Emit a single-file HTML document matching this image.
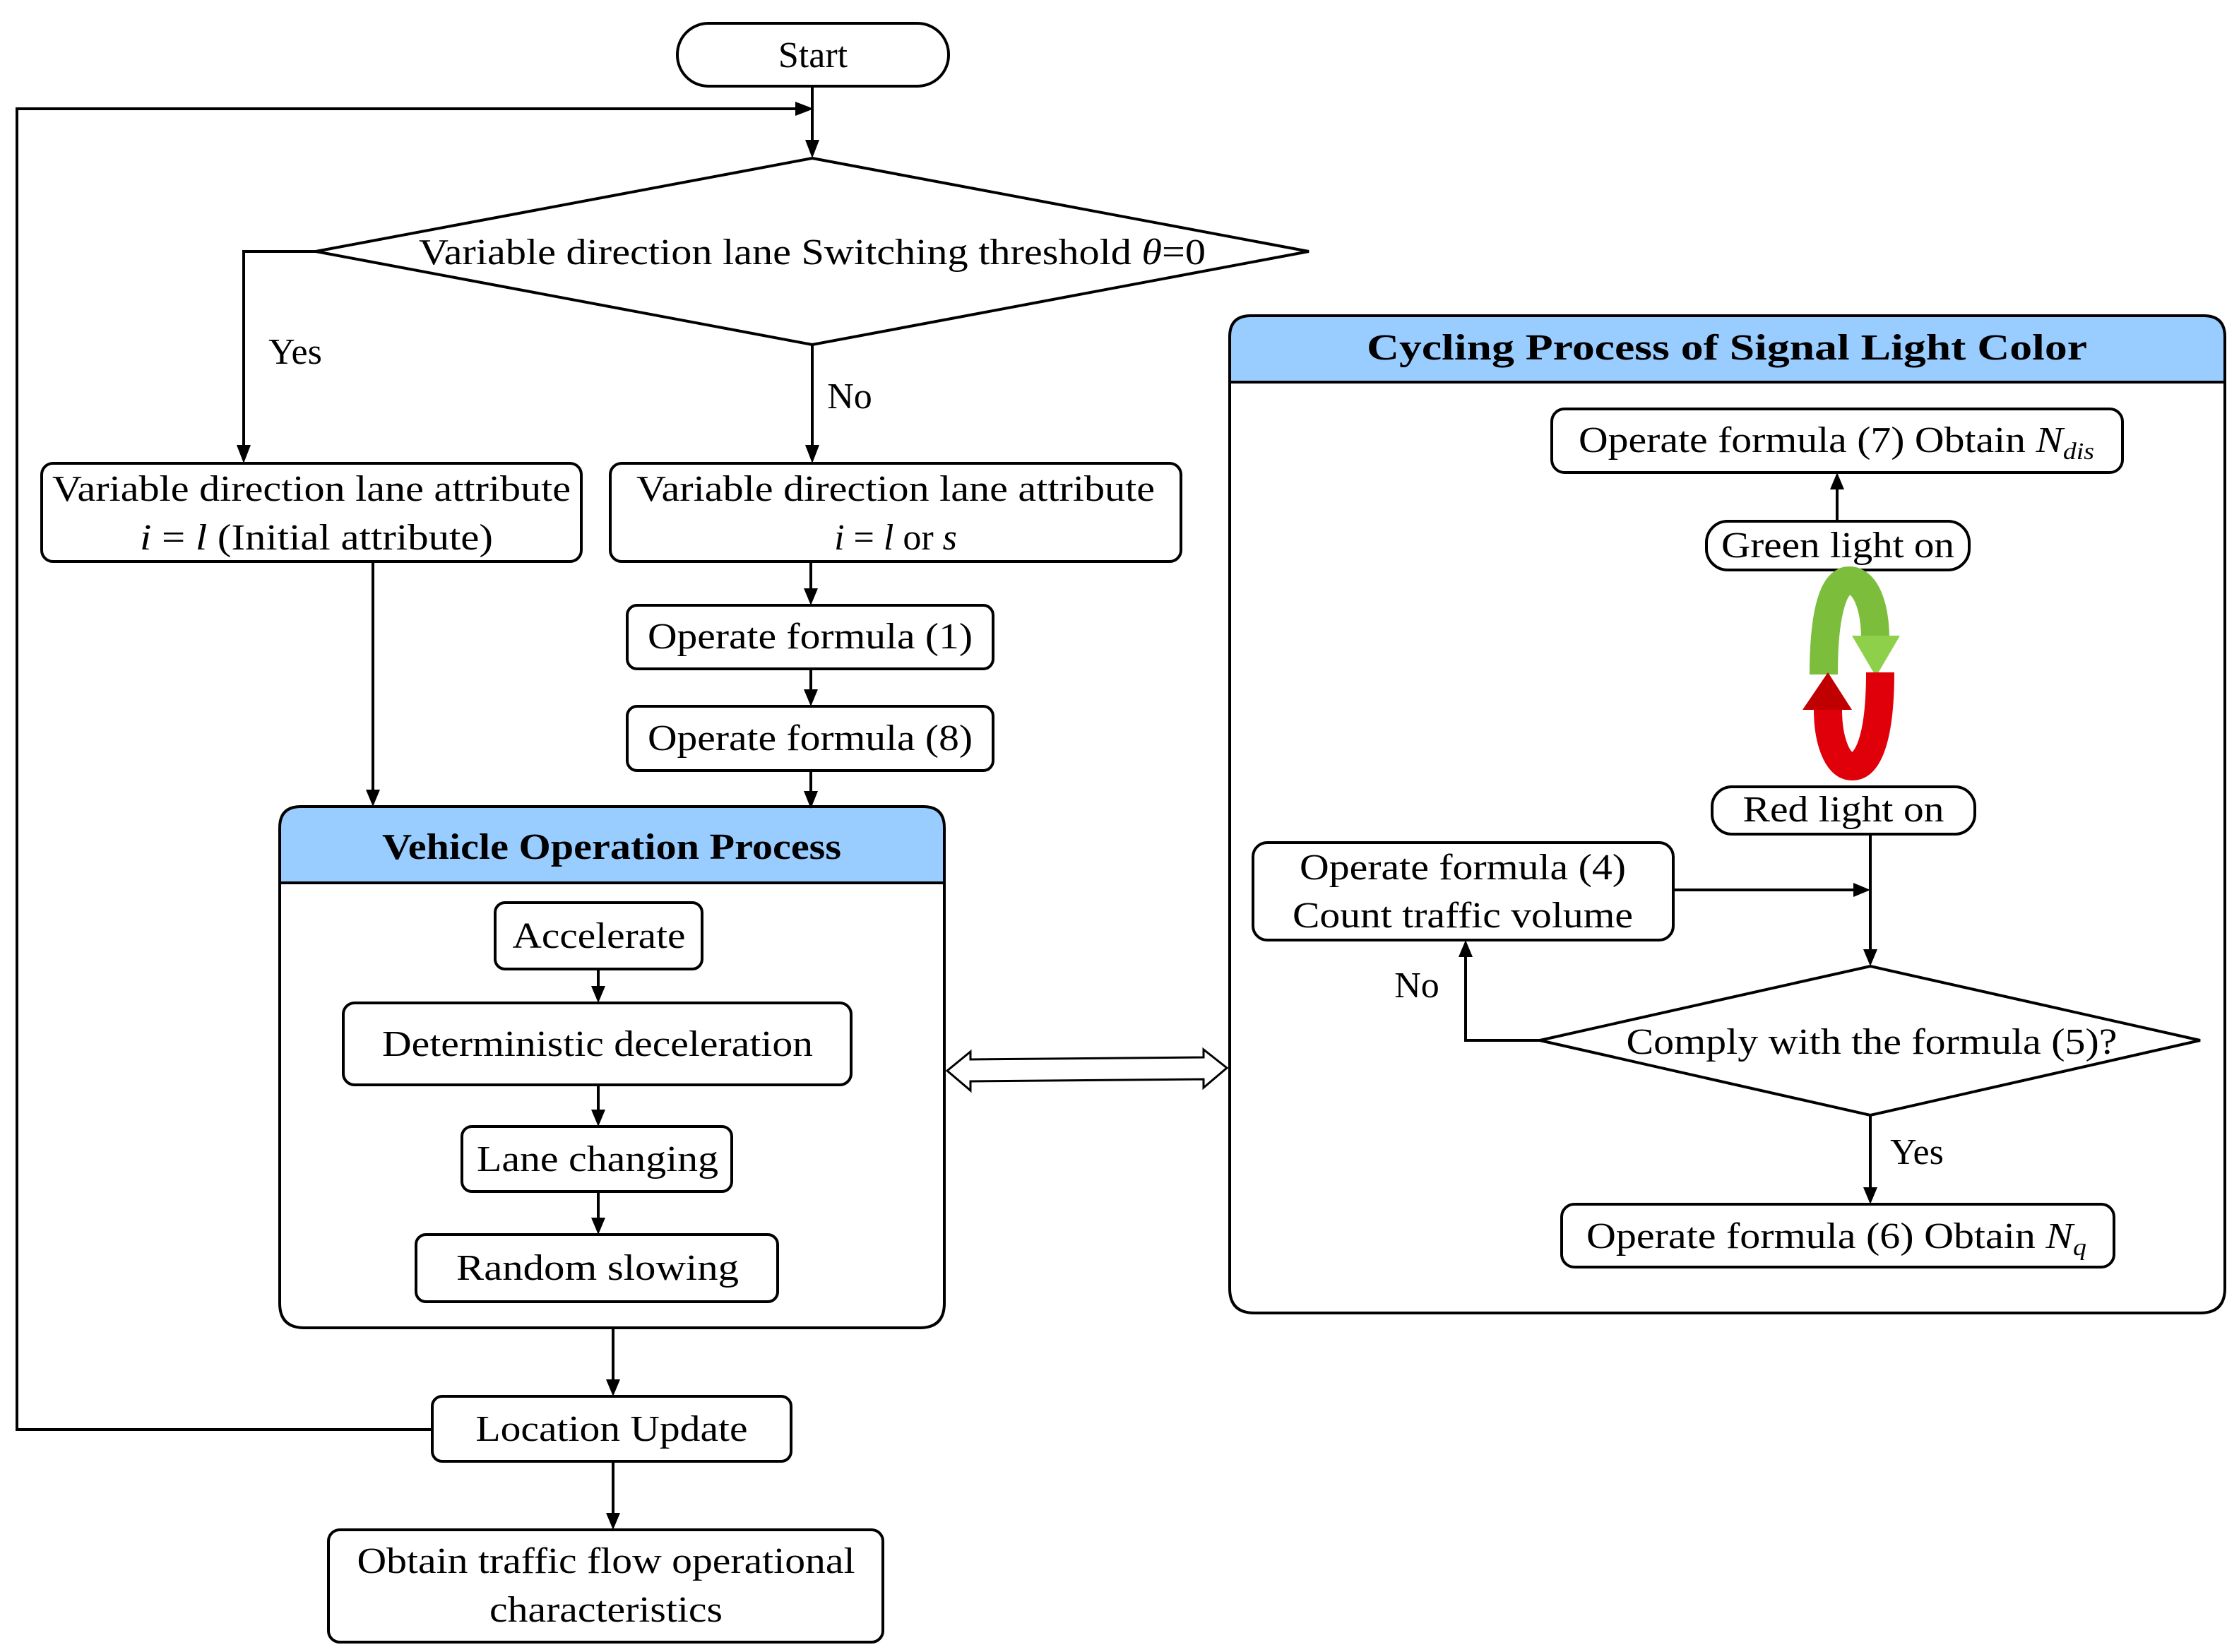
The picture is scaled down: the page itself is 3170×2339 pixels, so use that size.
<!DOCTYPE html>
<html><head><meta charset="utf-8"><style>
html,body{margin:0;padding:0;background:#fff;}
svg{display:block;}
text{font-family:"Liberation Serif",serif;fill:#000;}
</style></head><body>
<svg width="3170" height="2339" viewBox="0 0 3170 2339" xmlns="http://www.w3.org/2000/svg">
<defs>
<marker id="ah" markerWidth="10" markerHeight="10" refX="9" refY="5" orient="auto" markerUnits="userSpaceOnUse" viewBox="0 0 10 10">
</marker>
</defs>
<g fill="none" stroke="#000" stroke-width="4">
<!-- Start -->
<rect x="959" y="33" width="384" height="89" rx="44" fill="#fff"/>
<!-- loop -->
<polyline points="612,2024 24,2024 24,154 1130,154"/>
<line x1="1150" y1="122" x2="1150" y2="200"/>
<!-- diamond 1 -->
<polygon points="1150,224 1853,356 1150,488 447,356" fill="#fff"/>
<polyline points="447,356 345,356 345,632"/>
<line x1="1150" y1="488" x2="1150" y2="632"/>
<!-- boxes -->
<rect x="59" y="656" width="764" height="139" rx="16" fill="#fff"/>
<rect x="864" y="656" width="808" height="139" rx="16" fill="#fff"/>
<rect x="888" y="857" width="518" height="90" rx="14" fill="#fff"/>
<rect x="888" y="1000" width="518" height="91" rx="14" fill="#fff"/>
<line x1="1148" y1="795" x2="1148" y2="835"/>
<line x1="1148" y1="947" x2="1148" y2="978"/>
<line x1="1148" y1="1091" x2="1148" y2="1122"/>
<line x1="528" y1="795" x2="528" y2="1122"/>
<!-- VOP container -->
<path d="M396,1250 V1172 Q396,1142 426,1142 H1307 Q1337,1142 1337,1172 V1250 Z" fill="#99ccff"/>
<path d="M396,1250 V1845 Q396,1880 431,1880 H1302 Q1337,1880 1337,1845 V1250 Z"/>
<rect x="701" y="1278" width="293" height="94" rx="14" fill="#fff"/>
<rect x="486" y="1420" width="719" height="116" rx="16" fill="#fff"/>
<rect x="654" y="1595" width="382" height="92" rx="14" fill="#fff"/>
<rect x="589" y="1748" width="512" height="95" rx="14" fill="#fff"/>
<line x1="847" y1="1372" x2="847" y2="1400"/>
<line x1="847" y1="1536" x2="847" y2="1575"/>
<line x1="847" y1="1687" x2="847" y2="1728"/>
<line x1="868" y1="1880" x2="868" y2="1957"/>
<rect x="612" y="1977" width="508" height="92" rx="14" fill="#fff"/>
<line x1="868" y1="2069" x2="868" y2="2146"/>
<rect x="465" y="2166" width="785" height="159" rx="16" fill="#fff"/>
<!-- double arrow -->
<polygon points="1341,1516 1374,1489 1374,1500 1704,1497 1704,1486 1737,1512 1704,1540 1704,1528 1374,1531 1374,1544" stroke-width="3" fill="#fff"/>
<!-- right container -->
<path d="M1741,541 V477 Q1741,447 1771,447 H3120 Q3150,447 3150,477 V541 Z" fill="#99ccff"/>
<path d="M1741,541 V1824 Q1741,1859 1776,1859 H3115 Q3150,1859 3150,1824 V541 Z"/>
<rect x="2197" y="579" width="808" height="90" rx="18" fill="#fff"/>
<rect x="2416" y="738" width="372" height="69" rx="30" fill="#fff"/>
<line x1="2601" y1="738" x2="2601" y2="690"/>
<rect x="2424" y="1114" width="372" height="67" rx="28" fill="#fff"/>
<line x1="2648" y1="1181" x2="2648" y2="1346"/>
<rect x="1774" y="1193" width="595" height="138" rx="20" fill="#fff"/>
<line x1="2369" y1="1260" x2="2628" y2="1260"/>
<polygon points="2648,1368 3115,1473 2648,1579 2180,1473" fill="#fff"/>
<polyline points="2180,1473 2075,1473 2075,1352"/>
<line x1="2648" y1="1579" x2="2648" y2="1684"/>
<rect x="2211" y="1705" width="782" height="89" rx="18" fill="#fff"/>
</g>
<!-- arrowheads -->
<g fill="#000">
<polygon points="1150,224 1140,198 1160,198"/>
<polygon points="1152,154 1126,144 1126,164"/>
<polygon points="345,656 335,630 355,630"/>
<polygon points="1150,656 1140,630 1160,630"/>
<polygon points="1148,857 1138,833 1158,833"/>
<polygon points="1148,1000 1138,976 1158,976"/>
<polygon points="1148,1145 1138,1120 1158,1120"/>
<polygon points="528,1142 518,1118 538,1118"/>
<polygon points="847,1420 837,1396 857,1396"/>
<polygon points="847,1595 837,1571 857,1571"/>
<polygon points="847,1748 837,1724 857,1724"/>
<polygon points="868,1977 858,1953 878,1953"/>
<polygon points="868,2166 858,2142 878,2142"/>
<polygon points="2601,669 2591,693 2611,693"/>
<polygon points="2648,1260 2624,1250 2624,1270"/>
<polygon points="2648,1368 2638,1344 2658,1344"/>
<polygon points="2075,1331 2065,1355 2085,1355"/>
<polygon points="2648,1705 2638,1681 2658,1681"/>
</g>
<!-- circular arrows -->
<path d="M2582,955 C2582,860 2598,822 2618,822 C2642,822 2655,860 2655,905" fill="none" stroke="#7cbd3c" stroke-width="40"/>
<polygon points="2622,900 2690,900 2656,958" fill="#8fd04a"/>
<path d="M2662,952 C2662,1045 2645,1085 2622,1085 C2600,1085 2588,1045 2588,1005" fill="none" stroke="#e0000a" stroke-width="40"/>
<polygon points="2552,1005 2622,1005 2588,952" fill="#c00000"/>
<!-- text -->
<g font-size="52" text-anchor="middle">
<text x="1151" y="95">Start</text>
<text x="1150" y="374" textLength="1114" lengthAdjust="spacingAndGlyphs">Variable direction lane Switching threshold <tspan font-style="italic">θ</tspan>=0</text>
<text x="418" y="515">Yes</text>
<text x="1203" y="578">No</text>
<text x="441" y="709" textLength="734" lengthAdjust="spacingAndGlyphs">Variable direction lane attribute</text>
<text x="448" y="778" textLength="500" lengthAdjust="spacingAndGlyphs"><tspan font-style="italic">i</tspan> = <tspan font-style="italic">l</tspan> (Initial attribute)</text>
<text x="1268" y="709" textLength="734" lengthAdjust="spacingAndGlyphs">Variable direction lane attribute</text>
<text x="1268" y="778"><tspan font-style="italic">i</tspan> = <tspan font-style="italic">l</tspan>  or  <tspan font-style="italic">s</tspan></text>
<text x="1147" y="918" textLength="460" lengthAdjust="spacingAndGlyphs">Operate formula (1)</text>
<text x="1147" y="1062" textLength="460" lengthAdjust="spacingAndGlyphs">Operate formula (8)</text>
<text x="866" y="1216" font-weight="bold" textLength="650" lengthAdjust="spacingAndGlyphs">Vehicle Operation Process</text>
<text x="848" y="1342" textLength="245" lengthAdjust="spacingAndGlyphs">Accelerate</text>
<text x="846" y="1495" textLength="610" lengthAdjust="spacingAndGlyphs">Deterministic deceleration</text>
<text x="846" y="1658" textLength="342" lengthAdjust="spacingAndGlyphs">Lane changing</text>
<text x="846" y="1812" textLength="400" lengthAdjust="spacingAndGlyphs">Random slowing</text>
<text x="866" y="2040" textLength="385" lengthAdjust="spacingAndGlyphs">Location Update</text>
<text x="858" y="2227" textLength="705" lengthAdjust="spacingAndGlyphs">Obtain traffic flow operational</text>
<text x="858" y="2296" textLength="330" lengthAdjust="spacingAndGlyphs">characteristics</text>
<text x="2445" y="509" font-weight="bold" textLength="1020" lengthAdjust="spacingAndGlyphs">Cycling Process of Signal Light Color</text>
<text x="2600" y="640" textLength="730" lengthAdjust="spacingAndGlyphs">Operate formula (7) Obtain <tspan font-style="italic">N<tspan font-size="34" dy="10">dis</tspan></tspan></text>
<text x="2602" y="789" textLength="330" lengthAdjust="spacingAndGlyphs">Green light on</text>
<text x="2610" y="1163" textLength="285" lengthAdjust="spacingAndGlyphs">Red light on</text>
<text x="2071" y="1245" textLength="462" lengthAdjust="spacingAndGlyphs">Operate formula (4)</text>
<text x="2071" y="1313" textLength="482" lengthAdjust="spacingAndGlyphs">Count traffic volume</text>
<text x="2006" y="1412">No</text>
<text x="2650" y="1492" textLength="695" lengthAdjust="spacingAndGlyphs">Comply with the formula (5)?</text>
<text x="2714" y="1648">Yes</text>
<text x="2600" y="1767" textLength="708" lengthAdjust="spacingAndGlyphs">Operate formula (6) Obtain <tspan font-style="italic">N<tspan font-size="34" dy="10">q</tspan></tspan></text>
</g>
</svg>
</body></html>
